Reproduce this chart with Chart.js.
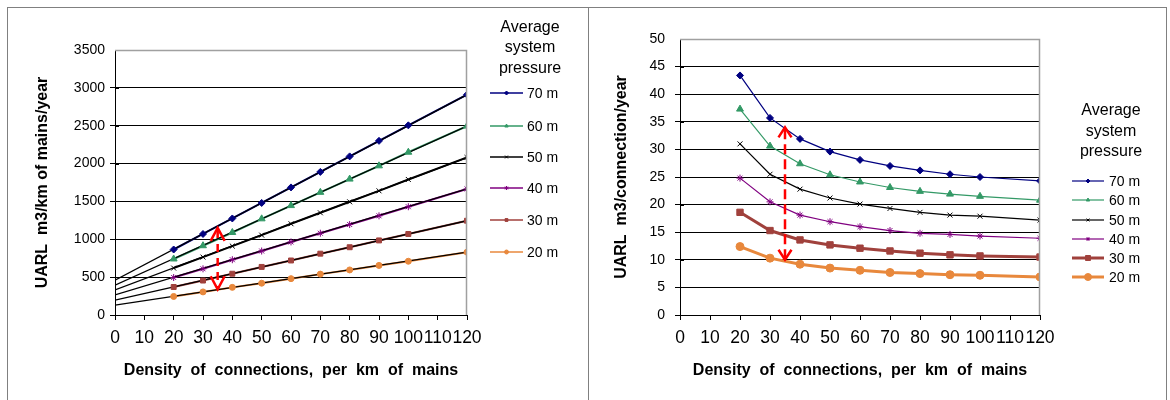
<!DOCTYPE html>
<html>
<head>
<meta charset="utf-8">
<script src="https://cdn.jsdelivr.net/npm/chart.js@4/dist/chart.umd.min.js"></script>
<style>
body { margin: 0; background: #fff; width: 1170px; height: 400px; overflow: hidden; }
.box { position: absolute; top: 7px; height: 400px; border: 1px solid #808080; border-bottom: none; }
#box1 { left: 7px; width: 580px; }
#box2 { left: 589px; width: 577px; border-left: none; }
canvas { position: absolute; left: 0; top: 0; }
</style>
</head>
<body>
<div class="box" id="box1"><canvas id="chart1" width="580" height="392"></canvas></div>
<div class="box" id="box2"><canvas id="chart2" width="577" height="392"></canvas></div>
<script>
// connections per km of mains (x values with markers)
const connections = [20, 30, 40, 50, 60, 70, 80, 90, 100, 120];
const pressures = ['70 m', '60 m', '50 m', '40 m', '30 m', '20 m'];

// UARL, m3 per km of mains per year
const perKm70 = [865, 1070, 1275, 1480, 1685, 1890, 2095, 2300, 2505, 2910];
const perKm60 = [740, 915, 1090, 1270, 1445, 1620, 1795, 1970, 2150, 2495];
const perKm50 = [620, 765, 910, 1055, 1205, 1350, 1495, 1640, 1790, 2080];
const perKm40 = [495, 610, 730, 845, 965, 1080, 1195, 1310, 1430, 1665];
const perKm30 = [370, 455, 545, 635, 720, 810, 895, 985, 1070, 1245];
const perKm20 = [245, 305, 365, 420, 480, 540, 595, 655, 710, 830];

// linear trend lines of the left chart, value at 0 and at 120 connections
const trendAt0 = [460, 395, 330, 265, 195, 130];
const trendAt120 = [2910, 2495, 2080, 1665, 1245, 830];

// UARL, m3 per connection per year
const perConn70 = [43.4, 35.7, 31.9, 29.6, 28.1, 27.0, 26.2, 25.5, 25.0, 24.3];
const perConn60 = [37.3, 30.6, 27.4, 25.4, 24.1, 23.1, 22.4, 21.9, 21.5, 20.8];
const perConn50 = [31.0, 25.5, 22.8, 21.2, 20.1, 19.3, 18.6, 18.1, 17.9, 17.2];
const perConn40 = [24.8, 20.5, 18.1, 16.9, 16.0, 15.3, 14.8, 14.6, 14.3, 13.9];
const perConn30 = [18.6, 15.3, 13.6, 12.7, 12.1, 11.6, 11.2, 10.9, 10.7, 10.5];
const perConn20 = [12.4, 10.3, 9.2, 8.5, 8.1, 7.7, 7.5, 7.3, 7.2, 6.9];

// red double arrow: x position, top and bottom value
const arrowAt = 35;
const arrowKm = [1150, 340];
const arrowConn = [34, 10];

const perKm = [perKm70, perKm60, perKm50, perKm40, perKm30, perKm20];
const perConn = [perConn70, perConn60, perConn50, perConn40, perConn30, perConn20];

const styles = [
    { color: '#000080', marker: 'rectRot', r1: 3.5, r2: 3.5, w2: 1.2 },
    { color: '#339966', marker: 'triangle', r1: 4, r2: 4, w2: 1.2 },
    { color: '#000000', marker: 'crossRot', r1: 3.5, r2: 3.5, w2: 1.2 },
    { color: '#800080', marker: 'star', r1: 3.5, r2: 3.5, w2: 1.2 },
    { color: '#a0413c', marker: 'rect', r1: 3.5, r2: 4.5, w2: 3 },
    { color: '#e8883c', marker: 'circle', r1: 3, r2: 4, w2: 3 }
];

const FONT = 'Liberation Sans, Arial, sans-serif';

function pts(vals) {
    return connections.map((c, i) => ({ x: c, y: vals[i] }));
}

// gray border at top and right of the plot area, cross ticks, red arrow
const framePlugin = {
    id: 'frame',
    afterDatasetsDraw(chart, args, opts) {
        const ctx = chart.ctx;
        const a = chart.chartArea;
        const xs = chart.scales.x, ys = chart.scales.y;
        ctx.save();
        ctx.strokeStyle = '#000';
        ctx.lineWidth = 1;
        ctx.beginPath();
        ys.ticks.forEach(t => {
            const y = Math.round(ys.getPixelForValue(t.value)) + 0.5;
            ctx.moveTo(a.left, y);
            ctx.lineTo(a.left + 4, y);
        });
        ctx.stroke();

        ctx.strokeStyle = '#a0a0a0';
        ctx.lineWidth = 1.5;
        ctx.beginPath();
        ctx.moveTo(a.left, a.top + 0.5);
        ctx.lineTo(a.right - 0.5, a.top + 0.5);
        ctx.lineTo(a.right - 0.5, a.bottom);
        ctx.stroke();

        const x = xs.getPixelForValue(arrowAt);
        const y1 = ys.getPixelForValue(opts.arrow[0]);
        const y2 = ys.getPixelForValue(opts.arrow[1]);
        ctx.strokeStyle = '#ff0000';
        ctx.lineWidth = 2.5;
        ctx.setLineDash(opts.dash);
        ctx.beginPath();
        ctx.moveTo(x, y1 + 2);
        ctx.lineTo(x, y2 - 2);
        ctx.stroke();
        ctx.setLineDash([]);
        const hw = opts.headW, hh = opts.headH;
        ctx.beginPath();
        ctx.moveTo(x - hw, y1 + hh);
        ctx.lineTo(x, y1);
        ctx.lineTo(x + hw, y1 + hh);
        ctx.moveTo(x - hw, y2 - hh);
        ctx.lineTo(x, y2);
        ctx.lineTo(x + hw, y2 - hh);
        ctx.stroke();
        ctx.restore();
    }
};

// Excel style legend with a title above it
const legendPlugin = {
    id: 'xlLegend',
    afterDraw(chart, args, opts) {
        const ctx = chart.ctx;
        ctx.save();
        ctx.fillStyle = '#000';
        ctx.textBaseline = 'middle';
        ctx.font = '16px ' + FONT;
        ctx.textAlign = 'center';
        opts.title.forEach((t, i) => ctx.fillText(t, opts.titleX, opts.titleY[i]));
        ctx.textAlign = 'left';
        ctx.font = '14px ' + FONT;
        pressures.forEach((p, i) => {
            const s = styles[i];
            const y = opts.itemY[i];
            ctx.strokeStyle = s.color;
            ctx.fillStyle = s.color;
            ctx.lineWidth = opts.thick ? s.w2 : 1.5;
            ctx.beginPath();
            ctx.moveTo(opts.x0, y);
            ctx.lineTo(opts.x1, y);
            ctx.stroke();
            ctx.lineWidth = 1;
            Chart.helpers.drawPoint(ctx, {
                pointStyle: s.marker,
                radius: opts.thick ? (s.w2 > 2 ? 3.5 : 2) : 2,
                borderWidth: 1,
                rotation: 0
            }, (opts.x0 + opts.x1) / 2, y);
            ctx.fillStyle = '#000';
            ctx.fillText(p, opts.textX, y + 1);
        });
        ctx.restore();
    }
};

function axes(cfg) {
    return {
        x: {
            type: 'linear',
            min: 0,
            max: 120,
            afterFit: s => { s.height = cfg.xHeight; },
            border: { color: '#000', width: 1 },
            grid: { drawOnChartArea: false, drawTicks: true, tickLength: 5, color: '#000' },
            ticks: { stepSize: 10, autoSkip: false, maxRotation: 0, color: '#000', padding: 8,
                     callback: v => String(v),
                     font: { family: FONT, size: 17.5 } },
            title: { display: true, text: 'Density  of  connections,  per  km  of  mains', color: '#000',
                     padding: { top: 0, bottom: cfg.xTitlePad },
                     font: { family: FONT, size: 16, weight: 'bold' } }
        },
        y: {
            min: 0,
            max: cfg.yMax,
            afterFit: s => { s.width = cfg.yWidth; },
            border: { color: '#000', width: 1 },
            grid: {
                color: c => (c.tick && c.tick.value === cfg.yMax) ? 'rgba(0,0,0,0)' : '#000',
                lineWidth: 1,
                tickLength: 5
            },
            ticks: { stepSize: cfg.yStep, color: '#000', padding: cfg.yTickPad,
                     callback: v => String(v),
                     font: { family: FONT, size: 14 } },
            title: { display: true, text: cfg.yTitle, color: '#000',
                     padding: { top: cfg.yTitlePad, bottom: 0 },
                     font: { family: FONT, size: 16, weight: 'bold' } }
        }
    };
}

// left chart: per km of mains with trend lines
const leftSets = [];
perKm.forEach((vals, i) => {
    const s = styles[i];
    leftSets.push({ data: pts(vals), showLine: true, borderColor: s.color, borderWidth: 2,
                    pointRadius: 0, order: 3 });
    leftSets.push({ data: [{ x: 0, y: trendAt0[i] }, { x: 120, y: trendAt120[i] }], showLine: true,
                    borderColor: '#000', borderWidth: 1.3, pointRadius: 0, order: 2 });
    leftSets.push({ data: pts(vals), showLine: false, pointStyle: s.marker, pointRadius: s.r1,
                    pointBackgroundColor: s.color, pointBorderColor: s.color, pointBorderWidth: 1, order: 1 });
});

new Chart(document.getElementById('chart1'), {
    type: 'scatter',
    data: { datasets: leftSets },
    options: {
        responsive: false,
        animation: false,
        events: [],
        layout: { padding: { left: 0, top: 42, right: 121, bottom: 15 } },
        plugins: {
            legend: { display: false },
            tooltip: { enabled: false },
            frame: { arrow: arrowKm, dash: [8, 6], headW: 7, headH: 13 },
            xlLegend: {
                title: ['Average', 'system', 'pressure'], titleX: 522, titleY: [20, 40, 61],
                x0: 482, x1: 515, textX: 519, itemY: [85, 118, 149, 180, 212, 244], thick: false
            }
        },
        scales: axes({ yMax: 3500, yStep: 500, yWidth: 107, yTickPad: 5, yTitlePad: 25,
                       xHeight: 70, xTitlePad: 5, yTitle: 'UARL  m3/km of mains/year' })
    },
    plugins: [framePlugin, legendPlugin]
});

// right chart: per connection
const rightSets = perConn.map((vals, i) => {
    const s = styles[i];
    return { data: pts(vals), showLine: true, borderColor: s.color, borderWidth: s.w2,
             pointStyle: s.marker, pointRadius: s.r2, pointBackgroundColor: s.color,
             pointBorderColor: s.color, pointBorderWidth: 1, tension: 0 };
});

new Chart(document.getElementById('chart2'), {
    type: 'scatter',
    data: { datasets: rightSets },
    options: {
        responsive: false,
        animation: false,
        events: [],
        layout: { padding: { left: 0, top: 31, right: 126, bottom: 15 } },
        plugins: {
            legend: { display: false },
            tooltip: { enabled: false },
            frame: { arrow: arrowConn, dash: [10, 5], headW: 6.5, headH: 10 },
            xlLegend: {
                title: ['Average', 'system', 'pressure'], titleX: 522, titleY: [103, 124, 144],
                x0: 483, x1: 515, textX: 520, itemY: [173, 192, 212, 231, 250, 269], thick: true
            }
        },
        scales: axes({ yMax: 50, yStep: 5, yWidth: 91, yTickPad: 10, yTitlePad: 23,
                       xHeight: 70, xTitlePad: 5, yTitle: 'UARL  m3/connection/year' })
    },
    plugins: [framePlugin, legendPlugin]
});
</script>
</body>
</html>
